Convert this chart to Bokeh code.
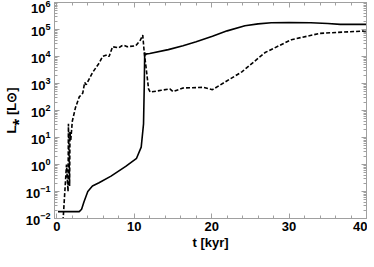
from bokeh.plotting import figure
from bokeh.models import Range1d, LinearAxis, LogAxis, SingleIntervalTicker, LogTicker, CustomJSTickFormatter
from bokeh.embed import file_html
from bokeh.resources import INLINE

# time [kyr]
t_solid = [0.15, 2.9, 3.2, 3.5, 4.0, 4.6, 5.45, 7.0, 8.9, 10.3, 10.9, 11.2, 11.3, 11.35,
           11.45, 11.6, 12.0, 14.4, 16.3, 18.0, 20.1, 22.0, 24.3, 26.0, 27.7, 30.0, 32.8,
           35.0, 36.6, 40.0]
L_solid = [0.018, 0.018, 0.022, 0.041, 0.1, 0.16, 0.21, 0.37, 0.85, 1.7, 4.4, 32, 1000, 1.4e4,
           1.15e4, 1.25e4, 1.3e4, 1.8e4, 2.5e4, 3.5e4, 5.6e4, 8.9e4, 1.38e5, 1.62e5, 1.78e5,
           1.82e5, 1.78e5, 1.66e5, 1.55e5, 1.55e5]

t_dash = [0.8, 1.25, 1.45, 1.5, 1.65, 1.7, 1.8, 2.0, 2.4, 2.9, 3.35, 3.6, 3.8, 4.6, 5.5, 5.9,
          6.5, 6.75, 7.2, 8.0, 8.4, 8.7, 9.1, 10.2, 10.8, 11.1, 11.3, 11.5, 11.85, 12.06, 13.5,
          14.6, 15.0, 16.3, 18.9, 20.1, 23.9, 26.9, 30.3, 34.0, 40.0]
L_dash = [0.008, 1.0, 0.1, 32, 0.16, 16, 8, 40, 125, 320, 440, 1100, 900, 2500, 5900, 1.0e4,
          1.15e4, 1.0e4, 2.3e4, 2.1e4, 2.5e4, 2.6e4, 2.3e4, 2.5e4, 4.1e4, 6.2e4, 1.3e4, 4600,
          630, 480, 560, 630, 500, 680, 720, 590, 2700, 1.4e4, 4.2e4, 7.2e4, 8.9e4]

x_label = "t [kyr]"
y_label = "L\u204e [L\u2299]"

FONT = "Liberation Sans"
GRAY = "#a0a0a0"

p = figure(frame_width=312, frame_height=216, output_backend="svg", toolbar_location=None,
           x_range=Range1d(-0.3, 40), y_range=Range1d(1e-2, 1e6), y_axis_type="log",
           x_axis_location=None, y_axis_location=None,
           min_border_left=2, min_border_right=1, min_border_top=2, min_border_bottom=0)
p.grid.visible = False
p.outline_line_color = GRAY
p.background_fill_color = "white"

def style(ax, labels=True):
    ax.axis_line_color = GRAY
    ax.major_tick_line_color = GRAY
    ax.minor_tick_line_color = GRAY
    ax.major_tick_in = 5
    ax.major_tick_out = 0
    ax.minor_tick_in = 3
    ax.minor_tick_out = 0
    ax.major_label_text_font = FONT
    ax.major_label_text_font_style = "bold"
    ax.major_label_text_font_size = "13px"
    ax.major_label_text_color = "black"
    ax.axis_label_text_font = FONT
    ax.axis_label_text_font_style = "bold"
    ax.axis_label_text_font_size = "13px"
    ax.axis_label_text_color = "black"
    if not labels:
        ax.formatter = CustomJSTickFormatter(code="return ''")
        ax.major_label_text_font_size = "0px"
        ax.major_label_standoff = 0

xb = LinearAxis(ticker=SingleIntervalTicker(interval=10, num_minor_ticks=5), axis_label=x_label)
style(xb)
xb.major_label_standoff = 3
xb.axis_label_standoff = 1
p.add_layout(xb, "below")

xt = LinearAxis(ticker=SingleIntervalTicker(interval=10, num_minor_ticks=5))
style(xt, labels=False)
p.add_layout(xt, "above")

yl = LogAxis(ticker=LogTicker(num_minor_ticks=10), axis_label=y_label)
style(yl)
yl.major_label_standoff = 4
yl.axis_label_standoff = 4
p.add_layout(yl, "left")

yr = LogAxis(ticker=LogTicker(num_minor_ticks=10))
style(yr, labels=False)
p.add_layout(yr, "right")

p.line(t_solid, L_solid, line_color="black", line_width=1.6)
p.line(t_dash, L_dash, line_color="black", line_width=1.6, line_dash="4 2")

open("out.html", "w").write(file_html(p, INLINE))
